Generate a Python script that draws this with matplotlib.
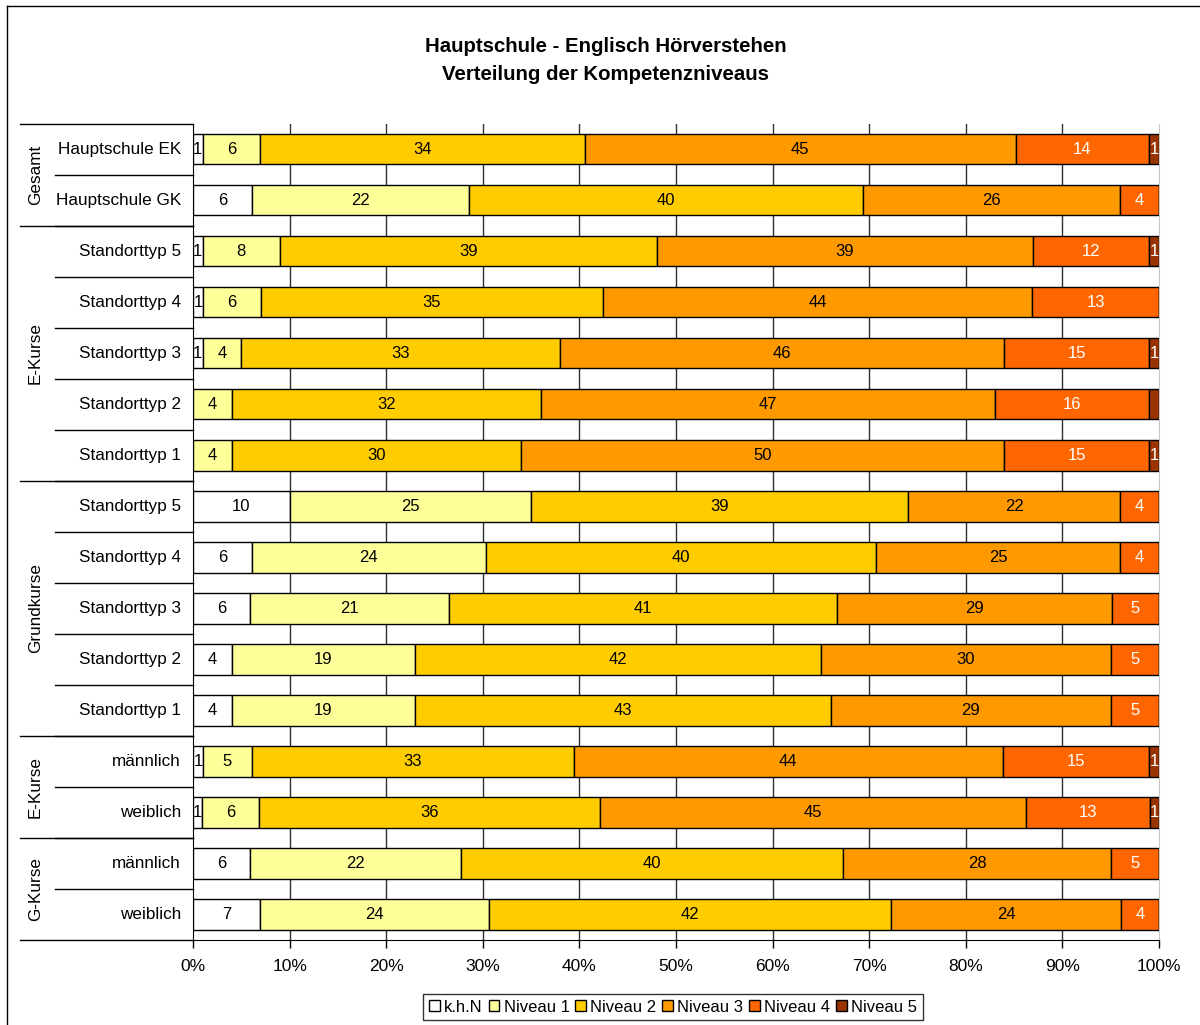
import numpy as np
import matplotlib.pyplot as plt
from matplotlib.lines import Line2D
from matplotlib.patches import Patch

plt.rcParams['font.family'] = ['Liberation Sans', 'DejaVu Sans']

# data
rows = ["Hauptschule EK", "Hauptschule GK",
        "Standorttyp 5", "Standorttyp 4", "Standorttyp 3", "Standorttyp 2", "Standorttyp 1",
        "Standorttyp 5", "Standorttyp 4", "Standorttyp 3", "Standorttyp 2", "Standorttyp 1",
        "männlich", "weiblich", "männlich", "weiblich"]
groups = ["Gesamt", "E-Kurse", "Grundkurse", "E-Kurse", "G-Kurse"]
group_rows = [(0, 1), (2, 6), (7, 11), (12, 13), (14, 15)]

series = ["k.h.N", "Niveau 1", "Niveau 2", "Niveau 3", "Niveau 4", "Niveau 5"]
khn = [1, 6, 1, 1, 1, 0, 0, 10, 6, 6, 4, 4, 1, 1, 6, 7]
niv1 = [6, 22, 8, 6, 4, 4, 4, 25, 24, 21, 19, 19, 5, 6, 22, 24]
niv2 = [34, 40, 39, 35, 33, 32, 30, 39, 40, 41, 42, 43, 33, 36, 40, 42]
niv3 = [45, 26, 39, 44, 46, 47, 50, 22, 25, 29, 30, 29, 44, 45, 28, 24]
niv4 = [14, 4, 12, 13, 15, 16, 15, 4, 4, 5, 5, 5, 15, 13, 5, 4]
niv5 = [1, 0, 1, 0, 1, 1, 1, 0, 0, 0, 0, 0, 1, 1, 0, 0]
no_label = [(5, 5)]  # (row, series) shown without value label

colors = ["#FFFFFF", "#FFFF99", "#FFCC00", "#FF9900", "#FF6600", "#993300"]
text_colors = ["black", "black", "black", "black", "white", "white"]

vals = np.array([khn, niv1, niv2, niv3, niv4, niv5], dtype=float)
shares = vals / vals.sum(axis=0) * 100

fig = plt.figure(figsize=(12, 10.25), dpi=100)
ax = fig.add_axes([193 / 1200, 1 - 940 / 1025, 966 / 1200, 816.5 / 1025])

y = np.arange(len(rows))
left = np.zeros(len(rows))
for i in range(len(series)):
    ax.barh(y, shares[i], left=left, height=0.6, color=colors[i],
            edgecolor="black", linewidth=1, zorder=3)
    for r in range(len(rows)):
        if vals[i, r] > 0 and (r, i) not in no_label:
            ax.text(left[r] + shares[i, r] / 2, y[r], str(int(vals[i, r])),
                    ha="center", va="center", fontsize=12, color=text_colors[i], zorder=4)
    left += shares[i]

ax.set_xlim(0, 100)
ax.set_ylim(len(rows) - 0.5, -0.5)
ax.set_xticks(np.arange(0, 101, 10))
ax.set_xticklabels([f"{t}%" for t in range(0, 101, 10)], fontsize=12.5)
ax.tick_params(axis="x", direction="out", length=6, width=1, pad=8)
for gx in range(10, 100, 10):
    ax.axvline(gx, color="#303030", linewidth=1, zorder=1)

ax.set_yticks([])
ax.spines["top"].set_visible(False)
ax.spines["right"].set_color("#C8C8C8")
ax.spines["left"].set_color("black")
ax.spines["bottom"].set_color("black")

# category labels and separators
trans = ax.get_yaxis_transform()
for r, name in enumerate(rows):
    ax.text(-0.0125, r, name, transform=trans, ha="right", va="center", fontsize=12.3)
for r in range(1, len(rows)):
    ax.plot([-0.1429, 0], [r - 0.5, r - 0.5], transform=trans, color="black",
            linewidth=1, clip_on=False)
for (a, b), g in zip(group_rows, groups):
    ax.plot([-0.179, 0], [a - 0.5, a - 0.5], transform=trans, color="black",
            linewidth=1, clip_on=False)
    ax.text(-0.163, (a + b) / 2, g, transform=trans, rotation=90,
            ha="center", va="center", fontsize=12.3)
ax.plot([-0.179, 0], [len(rows) - 0.5, len(rows) - 0.5], transform=trans,
        color="black", linewidth=1, clip_on=False)

fig.text(606 / 1200, 1 - 47 / 1025, "Hauptschule - Englisch Hörverstehen",
         ha="center", va="center", fontsize=14.7, fontweight="bold")
fig.text(606 / 1200, 1 - 74 / 1025, "Verteilung der Kompetenzniveaus",
         ha="center", va="center", fontsize=14.7, fontweight="bold")

handles = [Patch(facecolor=c, edgecolor="black", linewidth=1) for c in colors]
leg = fig.legend(handles, series, loc="center", bbox_to_anchor=(673 / 1200, 1 - 1007 / 1025),
                 ncol=6, fontsize=12, frameon=True, fancybox=False,
                 handlelength=0.65, handleheight=0.65, handletextpad=0.25,
                 columnspacing=0.35, borderpad=0.35, borderaxespad=0)
leg.get_frame().set_edgecolor("black")
leg.get_frame().set_linewidth(1)

# outer frame (left and top visible)
fig.add_artist(Line2D([7 / 1200, 7 / 1200], [0, 1 - 6 / 1025], color="black", linewidth=1))
fig.add_artist(Line2D([7 / 1200, 1], [1 - 6 / 1025, 1 - 6 / 1025], color="black", linewidth=1))

fig.savefig("out.png", dpi=100)
